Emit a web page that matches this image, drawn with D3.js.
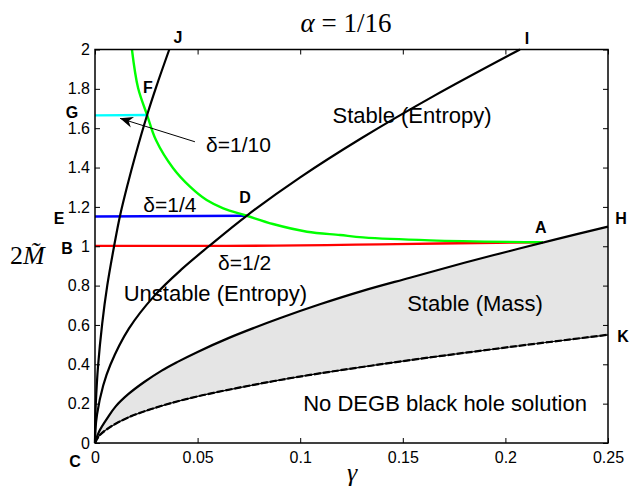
<!DOCTYPE html>
<html>
<head>
<meta charset="utf-8">
<script src="https://cdn.jsdelivr.net/npm/d3@7"></script>
<style>
  body { margin: 0; background: #fff; }
  svg { display: block; }
</style>
</head>
<body>
<script>
// tick values
var xTicks = [0, 0.05, 0.1, 0.15, 0.2, 0.25]
var yTicks = [0, 0.2, 0.4, 0.6, 0.8, 1, 1.2, 1.4, 1.6, 1.8, 2]

// curves, [gamma, 2M]
var curveJ = [[0,0],[0.0001,0.1],[0.0004,0.202],[0.0015,0.393],[0.0035,0.606],[0.006,0.802],[0.0093,1.0],[0.0122,1.155],[0.016,1.318],[0.0195,1.455],[0.0254,1.667],[0.030,1.815],[0.0362,2.0]]
var curveI = [[0,0],[0.0002,0.065],[0.001,0.146],[0.004,0.292],[0.0075,0.398],[0.0165,0.581],[0.029,0.749],[0.042,0.881],[0.0555,1.0],[0.0739,1.155],[0.1,1.35],[0.13,1.55],[0.165,1.763],[0.2071,2.0]]
var curveH = [[0,0],[0.002,0.058],[0.0065,0.134],[0.01,0.185],[0.0162,0.248],[0.024,0.31],[0.0325,0.368],[0.04,0.411],[0.05,0.463],[0.065,0.533],[0.078,0.587],[0.09,0.634],[0.1096,0.705],[0.13,0.772],[0.1535,0.84],[0.18,0.916],[0.2022,0.976],[0.225,1.036],[0.25,1.10]]
var curveK = [[0,0],[0.002,0.036],[0.0065,0.075],[0.0162,0.13],[0.0325,0.189],[0.05,0.237],[0.078,0.297],[0.1048,0.346],[0.1535,0.421],[0.2022,0.488],[0.25,0.55]]
var curveGreen = [[0.0180,2.0],[0.0210,1.804],[0.0254,1.667],[0.0297,1.54],[0.0380,1.398],[0.0463,1.303],[0.0544,1.235],[0.0625,1.193],[0.0739,1.155],[0.0867,1.113],[0.1033,1.074],[0.1194,1.057],[0.1306,1.045],[0.1633,1.030],[0.2183,1.02]]

// delta lines
var deltaTenth = [[0,1.665],[0.0254,1.667]]
var deltaQuarter = [[0,1.151],[0.0739,1.155]]
var deltaHalf = [[0,1.002],[0.06,1.002],[0.147,1.011],[0.196,1.018],[0.2183,1.02]]

// text labels, [text, gamma, 2M]
var regionLabels = [["Stable (Entropy)",0.1545,1.667],["Unstable (Entropy)",0.0587,0.762],["Stable (Mass)",0.1852,0.712],["No DEGB black hole solution",0.1706,0.203]]
var deltaLabels = [["\u03b4=1/10",0.0699,1.515],["\u03b4=1/4",0.0365,1.21],["\u03b4=1/2",0.0729,0.92]]
var pointLabels = [["J",0.0404,2.064],["I",0.2105,2.058],["F",0.0258,1.81],["G",-0.0112,1.682],["E",-0.0175,1.144],["B",-0.0136,0.991],["D",0.0731,1.25],["A",0.2173,1.098],["H",0.2563,1.144],["K",0.2573,0.544],["C",-0.0097,-0.091]]
var arrowTenth = [[0.0487,1.531],[0.0122,1.650]]

var width = 630
var height = 488
var svg = d3.select("body").append("svg")
    .attr("width", width)
    .attr("height", height)

var x = d3.scaleLinear().domain([0, 0.25]).range([95, 608])
var y = d3.scaleLinear().domain([0, 2]).range([443, 49.5])

var sans = "'Liberation Sans', Arial, Helvetica, sans-serif"
var serif = "'Liberation Serif', 'Times New Roman', serif"

var smooth = d3.line()
    .x(function(d){ return x(d[0]) })
    .y(function(d){ return y(d[1]) })
    .curve(d3.curveCatmullRom.alpha(0.5))
var flat = d3.line()
    .x(function(d){ return x(d[0]) })
    .y(function(d){ return y(d[1]) })
    .curve(d3.curveMonotoneX)

// shaded band between H and K
svg.append("path")
    .attr("d", smooth(curveH) + smooth(curveK.slice().reverse()).replace(/^M/, "L") + "Z")
    .attr("fill", "#e5e5e5")
    .attr("stroke", "none")

// delta lines
var deltas = [[deltaHalf, "#ff0000"], [deltaQuarter, "#0000ff"], [deltaTenth, "#00ffff"]]
deltas.forEach(function(d){
  svg.append("path")
      .attr("d", flat(d[0]))
      .attr("fill", "none")
      .attr("stroke", d[1])
      .attr("stroke-width", 2.4)
})

svg.append("path")
    .attr("d", smooth(curveGreen))
    .attr("fill", "none")
    .attr("stroke", "#00ff00")
    .attr("stroke-width", 2.4)

// black boundaries
;[curveJ, curveI, curveH].forEach(function(c){
  svg.append("path")
      .attr("d", smooth(c))
      .attr("fill", "none")
      .attr("stroke", "#000")
      .attr("stroke-width", 2.2)
})
svg.append("path")
    .attr("d", smooth(curveK))
    .attr("fill", "none")
    .attr("stroke", "#000")
    .attr("stroke-width", 1.2)
svg.append("path")
    .attr("d", smooth(curveK))
    .attr("fill", "none")
    .attr("stroke", "#000")
    .attr("stroke-width", 2.2)
    .attr("stroke-dasharray", "7,2")

// axes, ticks pointing inward on all four sides
function styleAxis(g){
  g.select(".domain").remove()
  g.selectAll(".tick line").attr("stroke", "#000").attr("stroke-width", 1)
  g.selectAll("text").attr("font-family", sans).attr("font-size", 16).attr("fill", "#000")
}
svg.append("g")
    .attr("transform", "translate(0," + y(0) + ")")
    .call(d3.axisBottom(x).tickValues(xTicks).tickFormat(function(d){ return String(d) }).tickSizeInner(-5).tickSizeOuter(0).tickPadding(9))
    .call(styleAxis)
svg.append("g")
    .attr("transform", "translate(" + x(0) + ",0)")
    .call(d3.axisLeft(y).tickValues(yTicks).tickFormat(function(d){ return String(d) }).tickSizeInner(-5).tickSizeOuter(0).tickPadding(5))
    .call(styleAxis)
svg.append("g")
    .attr("transform", "translate(0," + y(2) + ")")
    .call(d3.axisTop(x).tickValues(xTicks).tickFormat("").tickSizeInner(-5).tickSizeOuter(0))
    .call(styleAxis)
svg.append("g")
    .attr("transform", "translate(" + x(0.25) + ",0)")
    .call(d3.axisRight(y).tickValues(yTicks).tickFormat("").tickSizeInner(-5).tickSizeOuter(0))
    .call(styleAxis)

svg.append("rect")
    .attr("x", x(0))
    .attr("y", y(2))
    .attr("width", x(0.25) - x(0))
    .attr("height", y(0) - y(2))
    .attr("fill", "none")
    .attr("stroke", "#000")
    .attr("stroke-width", 1.5)

// region and delta labels
function addLabels(cls, data, size, weight){
  svg.selectAll("." + cls)
      .data(data)
      .enter()
      .append("text")
      .attr("class", cls)
      .attr("x", function(d){ return x(d[1]) })
      .attr("y", function(d){ return y(d[2]) })
      .attr("dy", "0.36em")
      .attr("text-anchor", "middle")
      .attr("font-family", sans)
      .attr("font-weight", weight)
      .attr("font-size", size)
      .text(function(d){ return d[0] })
}
addLabels("region", regionLabels, 22, "normal")
addLabels("delta", deltaLabels, 21, "normal")
addLabels("point", pointLabels, 16, "bold")

// arrow for delta=1/10
svg.append("defs").append("marker")
    .attr("id", "head")
    .attr("viewBox", "0 -6 14 12")
    .attr("refX", 13)
    .attr("refY", 0)
    .attr("markerUnits", "userSpaceOnUse")
    .attr("markerWidth", 14)
    .attr("markerHeight", 12)
    .attr("orient", "auto")
  .append("path")
    .attr("d", "M13,0 L0,-5.5 L4,0 L0,5.5 Z")
    .attr("fill", "#000")
svg.append("line")
    .attr("x1", x(arrowTenth[0][0]))
    .attr("y1", y(arrowTenth[0][1]))
    .attr("x2", x(arrowTenth[1][0]))
    .attr("y2", y(arrowTenth[1][1]))
    .attr("stroke", "#000")
    .attr("stroke-width", 1)
    .attr("marker-end", "url(#head)")

// title and axis titles
var title = svg.append("text")
    .attr("x", 346)
    .attr("y", 32)
    .attr("text-anchor", "middle")
    .attr("font-family", serif)
    .attr("font-size", 27)
title.append("tspan").attr("font-style", "italic").text("\u03b1")
title.append("tspan").text(" = 1/16")

svg.append("text")
    .attr("x", 352)
    .attr("y", 481)
    .attr("text-anchor", "middle")
    .attr("font-family", serif)
    .attr("font-style", "italic")
    .attr("font-size", 26)
    .text("\u03b3")

var ylab = svg.append("text")
    .attr("x", 10)
    .attr("y", 264)
    .attr("font-family", serif)
    .attr("font-size", 26)
ylab.append("tspan").text("2")
ylab.append("tspan").attr("font-style", "italic").text("M\u0303")
</script>
</body>
</html>
